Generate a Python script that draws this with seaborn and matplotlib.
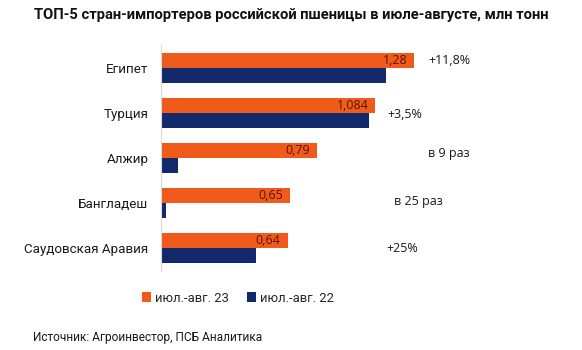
import matplotlib
matplotlib.use("Agg")
import matplotlib.pyplot as plt
import seaborn as sns
import pandas as pd

countries = ["Египет", "Турция", "Алжир", "Бангладеш", "Саудовская Аравия"]
vals_23 = [1.28, 1.084, 0.79, 0.65, 0.64]
vals_22 = [1.136, 1.052, 0.087, 0.024, 0.48]
value_labels = ["1,28", "1,084", "0,79", "0,65", "0,64"]
changes = ["+11,8%", "+3,5%", "в 9 раз", "в 25 раз", "+25%"]
series_names = ["июл.-авг. 23", "июл.-авг. 22"]
title = "ТОП-5 стран-импортеров российской пшеницы в июле-августе, млн тонн"
source = "Источник: Агроинвестор, ПСБ Аналитика"

# annotation placement (data coords)
change_x = [1.35, 1.146, 1.35, 1.18, 1.14]
change_dy = [-0.17, 0.04, -0.11, -0.04, 0.0]

sns.set_style("white")
plt.rcParams["font.family"] = ["Roboto", "DejaVu Sans"]

df = pd.DataFrame({
    "country": countries * 2,
    "period": [series_names[0]] * 5 + [series_names[1]] * 5,
    "value": vals_23 + vals_22,
})

fig = plt.figure(figsize=(5.82, 3.5), dpi=100)
ax = fig.add_axes([0.2766, 0.227, 0.68, 0.643])
sns.barplot(data=df, y="country", x="value", hue="period", orient="h",
            palette=["#F05A1A", "#12296C"], width=0.68, gap=0,
            saturation=1, ax=ax, order=countries, hue_order=series_names,
            linewidth=0, edgecolor="none")

ax.set_xlim(0, 2.0)
ax.set_ylim(4.5, -0.5)
ax.set_xlabel("")
ax.set_ylabel("")
ax.set_xticks([])
for s in ["top", "right", "bottom"]:
    ax.spines[s].set_visible(False)
ax.spines["left"].set_color("#d9d9d9")
ax.spines["left"].set_linewidth(0.8)
ax.tick_params(axis="y", length=0, pad=9, labelsize=9.6, labelcolor="#1a1a1a")

handles, labels = ax.get_legend_handles_labels()
ax.get_legend().remove()

# value labels inside orange bars
orange = ax.containers[0]
for bar, lab in zip(orange.patches, value_labels):
    ax.annotate(lab, (bar.get_width(), bar.get_y() + bar.get_height() / 2),
                xytext=(-5, 0), textcoords="offset points", ha="right", va="center",
                fontsize=9, color="#5a1505", family=["Open Sans", "DejaVu Sans"])

for i, (txt, cx, dy) in enumerate(zip(changes, change_x, change_dy)):
    ax.text(cx, i + dy, txt, ha="left", va="center", fontsize=9,
            color="#1a1a1a", family=["Open Sans", "DejaVu Sans"])

fig.text(0.5, 0.957, title, ha="center", va="center", fontsize=10.6,
         fontweight="bold", color="#111111")

fig.legend(handles, labels, loc="center", bbox_to_anchor=(238 / 582, 1 - 298 / 350),
           ncol=2, frameon=False, fontsize=9.4, handlelength=0.7, handleheight=0.7,
           handletextpad=0.3, columnspacing=1.4)

fig.text(33 / 582, 1 - 338 / 350, source, ha="left", va="center", fontsize=8.6,
         color="#1a1a1a")

fig.savefig("out.png", dpi=100)
